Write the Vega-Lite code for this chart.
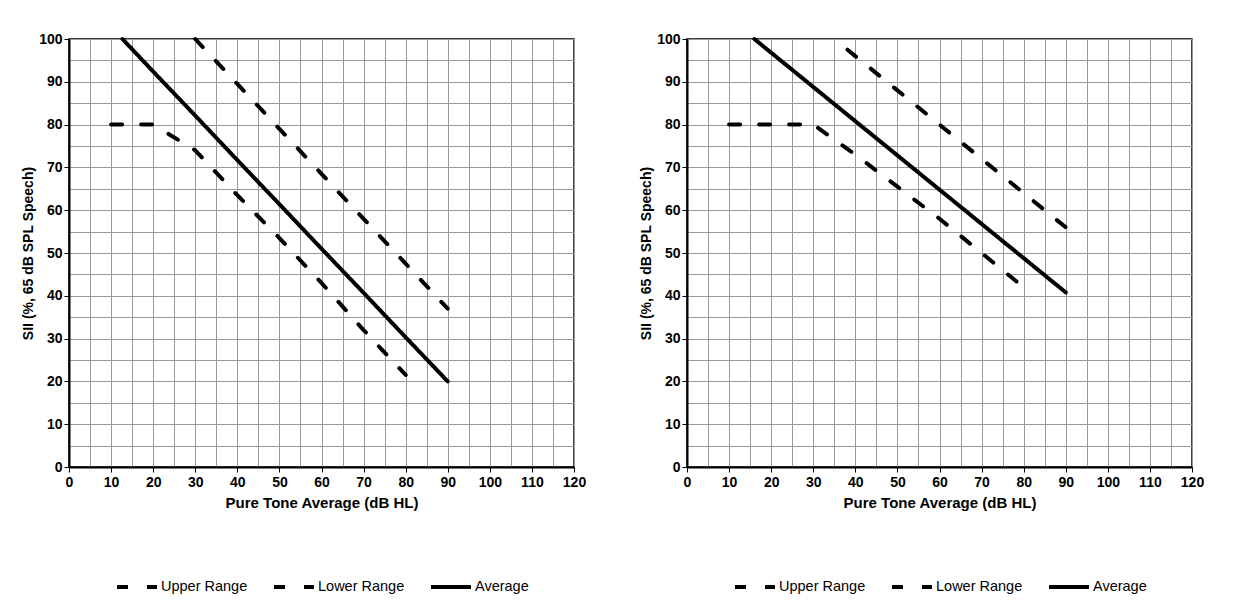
{
  "$schema": "https://vega.github.io/schema/vega-lite/v6.json",
  "padding": {"left": 20, "top": 30, "right": 0, "bottom": 0},
  "background": "white",
  "datasets": {
    "left": [
      {"series": "Average", "x": 12.7, "y": 100},
      {"series": "Average", "x": 20, "y": 92.4},
      {"series": "Average", "x": 30, "y": 82.1},
      {"series": "Average", "x": 40, "y": 71.7},
      {"series": "Average", "x": 50, "y": 61.4},
      {"series": "Average", "x": 60, "y": 51.0},
      {"series": "Average", "x": 70, "y": 40.7},
      {"series": "Average", "x": 80, "y": 30.3},
      {"series": "Average", "x": 90, "y": 20},
      {"series": "Upper Range", "x": 30, "y": 100},
      {"series": "Upper Range", "x": 40, "y": 89.5},
      {"series": "Upper Range", "x": 50, "y": 79},
      {"series": "Upper Range", "x": 60, "y": 68.5},
      {"series": "Upper Range", "x": 70, "y": 58},
      {"series": "Upper Range", "x": 80, "y": 47.5},
      {"series": "Upper Range", "x": 90, "y": 37},
      {"series": "Lower Range", "x": 10, "y": 80},
      {"series": "Lower Range", "x": 20, "y": 80},
      {"series": "Lower Range", "x": 30, "y": 74},
      {"series": "Lower Range", "x": 40, "y": 63.5},
      {"series": "Lower Range", "x": 50, "y": 53.5},
      {"series": "Lower Range", "x": 60, "y": 43},
      {"series": "Lower Range", "x": 70, "y": 32},
      {"series": "Lower Range", "x": 80, "y": 21.5}
    ],
    "right": [
      {"series": "Average", "x": 16, "y": 100},
      {"series": "Average", "x": 20, "y": 96.8},
      {"series": "Average", "x": 30, "y": 88.8},
      {"series": "Average", "x": 40, "y": 80.8},
      {"series": "Average", "x": 50, "y": 72.8},
      {"series": "Average", "x": 60, "y": 64.8},
      {"series": "Average", "x": 70, "y": 56.8},
      {"series": "Average", "x": 80, "y": 48.8},
      {"series": "Average", "x": 90, "y": 40.8},
      {"series": "Upper Range", "x": 35, "y": 100},
      {"series": "Upper Range", "x": 40, "y": 96},
      {"series": "Upper Range", "x": 50, "y": 88},
      {"series": "Upper Range", "x": 60, "y": 80},
      {"series": "Upper Range", "x": 70, "y": 72},
      {"series": "Upper Range", "x": 80, "y": 64},
      {"series": "Upper Range", "x": 90, "y": 56},
      {"series": "Lower Range", "x": 10, "y": 80},
      {"series": "Lower Range", "x": 20, "y": 80},
      {"series": "Lower Range", "x": 30, "y": 80},
      {"series": "Lower Range", "x": 40, "y": 73},
      {"series": "Lower Range", "x": 50, "y": 65.5},
      {"series": "Lower Range", "x": 60, "y": 58},
      {"series": "Lower Range", "x": 70, "y": 50},
      {"series": "Lower Range", "x": 80, "y": 42}
    ]
  },
  "hconcat": [
    {
      "width": 505,
      "height": 428,
      "data": {"name": "left"},
      "mark": {"type": "line", "color": "black", "strokeWidth": 4, "strokeCap": "round"},
      "encoding": {
        "x": {"field": "x", "type": "quantitative", "title": "Pure Tone Average (dB HL)",
              "scale": {"domain": [0, 120], "nice": false},
              "axis": {"values": [0,5,10,15,20,25,30,35,40,45,50,55,60,65,70,75,80,85,90,95,100,105,110,115,120]}},
        "y": {"field": "y", "type": "quantitative", "title": "SII (%, 65 dB SPL Speech)",
              "scale": {"domain": [0, 100], "nice": false},
              "axis": {"values": [0,5,10,15,20,25,30,35,40,45,50,55,60,65,70,75,80,85,90,95,100]}},
        "strokeDash": {"field": "series", "type": "nominal", "title": null,
              "scale": {"domain": ["Upper Range", "Lower Range", "Average"], "range": [[11, 19], [11, 19], [1, 0]]}},
        "detail": {"field": "series"}
      }
    },
    {
      "width": 505,
      "height": 428,
      "data": {"name": "right"},
      "encoding": {
        "x": {"field": "x", "type": "quantitative", "title": "Pure Tone Average (dB HL)",
              "scale": {"domain": [0, 120], "nice": false},
              "axis": {"values": [0,5,10,15,20,25,30,35,40,45,50,55,60,65,70,75,80,85,90,95,100,105,110,115,120]}},
        "y": {"field": "y", "type": "quantitative", "title": "SII (%, 65 dB SPL Speech)",
              "scale": {"domain": [0, 100], "nice": false},
              "axis": {"values": [0,5,10,15,20,25,30,35,40,45,50,55,60,65,70,75,80,85,90,95,100]}},
        "strokeDash": {"field": "series", "type": "nominal", "title": null,
              "scale": {"domain": ["Upper Range", "Lower Range", "Average"], "range": [[11, 19], [11, 19], [1, 0]]}},
        "detail": {"field": "series"}
      },
      "layer": [
        {
          "transform": [{"filter": "datum.series !== 'Upper Range'"}],
          "mark": {"type": "line", "color": "black", "strokeWidth": 4, "strokeCap": "round"}
        },
        {
          "transform": [{"filter": "datum.series === 'Upper Range'"}],
          "mark": {"type": "line", "color": "black", "strokeWidth": 4, "strokeCap": "round", "strokeDashOffset": 13}
        }
      ]
    }
  ],
  "spacing": 51,
  "resolve": {"scale": {"strokeDash": "independent"}, "legend": {"strokeDash": "independent"}},
  "config": {
    "font": "Liberation Sans",
    "view": {"stroke": "black", "strokeWidth": 1.5},
    "axis": {
      "labelFont": "Liberation Sans",
      "labelFontSize": 14,
      "labelFontWeight": "bold",
      "labelColor": "black",
      "labelOverlap": false,
      "labelFlush": false,
      "labelExpr": "datum.value % 10 === 0 ? datum.label : ''",
      "titleFont": "Liberation Sans",
      "titleFontSize": 14,
      "titleFontWeight": "bold",
      "titleColor": "black",
      "domainColor": "black",
      "domainWidth": 2,
      "tickColor": "black",
      "tickSize": 5,
      "tickWidth": 1,
      "tickOpacity": {"condition": {"test": "datum.value % 10 === 0", "value": 1}, "value": 0},
      "grid": true,
      "gridColor": "#999999",
      "gridWidth": 1,
      "gridOpacity": 1
    },
    "axisX": {"labelPadding": 3, "titlePadding": 6, "titleFontSize": 15},
    "axisY": {"labelPadding": 2, "titlePadding": 3},
    "legend": {
      "orient": "bottom",
      "direction": "horizontal",
      "offset": 55,
      "layout": {"bottom": {"anchor": "middle"}},
      "symbolType": "stroke",
      "symbolSize": 1600,
      "symbolStrokeWidth": 4,
      "symbolStrokeColor": "black",
      "labelFont": "Liberation Sans",
      "labelFontSize": 14.5,
      "labelColor": "black",
      "labelOffset": 2,
      "columnPadding": 18
    }
  }
}
